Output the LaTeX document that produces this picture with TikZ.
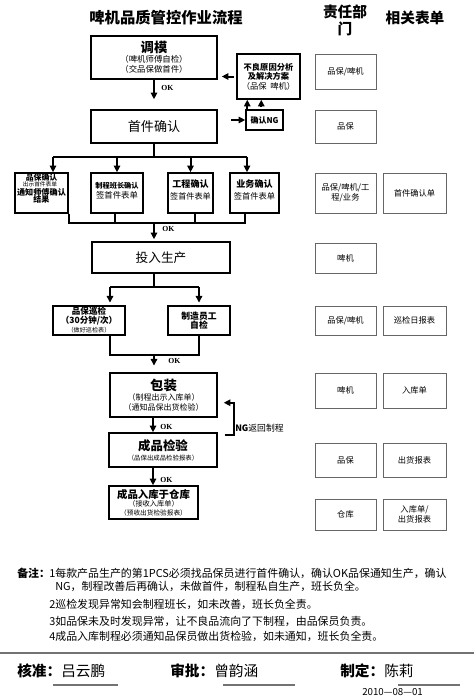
\documentclass[tikz,border=0pt]{standalone}
\usepackage{fontspec}
\setmainfont{Noto Sans CJK SC}
\newfontfamily\okfont{Liberation Serif}
\usetikzlibrary{arrows.meta,calc}
\newcommand\mybox[7][box]{%
 \pgfmathsetmacro\myboxcx{(#3+#5)/2}%
 \pgfmathsetmacro\myboxcy{(#4+#6)/2}%
 \pgfmathsetmacro\myboxw{(#5-#3)*0.75}%
 \pgfmathsetmacro\myboxh{(#6-#4)*0.75}%
 \node[#1,minimum width=\myboxw pt,minimum height=\myboxh pt] (#2) at (\myboxcx,\myboxcy) {#7};}
\newcommand\fz[2]{\fontsize{#1}{#2}\selectfont}
\tikzset{
 box/.style={draw=black,line width=1.1pt,align=center,inner sep=0pt,font=\fz{6.3}{7.4}},
 rbox/.style={draw=black!60,line width=0.75pt,align=center,inner sep=0pt,font=\fz{6.2}{7.6}},
 txt/.style={align=center,inner sep=0pt,font=\fz{6.3}{7.4}},
 ln/.style={line width=1.5pt},
 arr/.style={line width=1.5pt,-{Triangle[length=5pt,width=4.8pt]}},
 ok/.style={anchor=west,inner sep=0pt,font=\okfont\bfseries\fz{5.8}{6}},
 note/.style={anchor=west,inner sep=0pt,font=\fz{8.2}{9}},
 foot/.style={anchor=west,inner sep=0pt,font=\fz{11}{12}},
 uline/.style={draw=black!55,line width=0.8pt},
}
\begin{document}
\begin{tikzpicture}[x=0.75pt,y=-0.75pt]
\useasboundingbox (0,0) rectangle (474,700);
\fill[white] (0,0) rectangle (474,700);

% headers
\node[font=\bfseries\fz{11.5}{13}] (title) at (166,18) {啤机品质管控作业流程};
\node[font=\bfseries\fz{11}{12.75},align=center,inner sep=0pt] (h1) at (345,20) {责任部\\门};
\node[font=\bfseries\fz{11}{13}] (h2) at (415,18) {相关表单};

% main flow boxes
\mybox{tm}{91}{36}{217}{79}{{\fz{10}{11}\bfseries 调模}\\（啤机师傅自检）\\（交品保做首件）}
\mybox{sj}{91}{110}{217}{143}{{\fz{9.8}{11}首件确认}}
\mybox[box,font=\fz{6.2}{7.2}]{bl}{237}{54}{300}{99}{{\bfseries 不良原因分析}\\{\bfseries 及解决方案}\\（品保\ \ 啤机）}
\mybox[box,font=\bfseries\fz{6}{7}]{ng}{246}{110}{283}{130}{确认NG}

\mybox{q1}{15}{173}{68}{213}{}
\node[txt,font=\bfseries\fz{5.9}{6}] (q1a) at (41.5,177.5) {品保确认};
\node[txt,font=\fz{4.3}{5}] (q1b) at (40,184.5) {出示首件表单};
\node[txt,font=\bfseries\fz{6.1}{6}] (q1c) at (41.5,192) {通知师傅确认};
\node[txt,font=\bfseries\fz{6}{6}] (q1d) at (41.5,199.5) {结果};
\mybox{q2}{91}{173}{143}{213}{}
\node[txt,font=\bfseries\fz{5.4}{6}] (q2a) at (117,186) {制程班长确认};
\node[txt,font=\fz{6.3}{7}] (q2b) at (117,195) {签首件表单};
\mybox{q3}{168}{173}{213}{213}{}
\node[txt,font=\fz{6.1}{8.5}] (q3t) at ($(q3)+(0,-3)$) {{\bfseries\fz{6.8}{8}工程确认}\\签首件表单};
\mybox{q4}{230}{173}{279}{213}{}
\node[txt,font=\fz{6.2}{8.5}] (q4t) at ($(q4)+(0,-3)$) {{\bfseries\fz{6.8}{8}业务确认}\\签首件表单};

\mybox{tp}{92}{242}{230}{273}{{\fz{9.5}{11}投入生产}}
\mybox[box,font=\bfseries\fz{6.4}{6.8}]{xj}{53}{306}{125}{335}{品保巡检\\（30分钟/次）\\{\mdseries\fz{4.6}{5}（做好巡检表）}}
\mybox[box,font=\bfseries\fz{6.6}{7}]{zz}{168}{306}{230}{335}{制造员工\\自检}

\mybox[box,font=\fz{6}{7.6}]{bz}{110}{373}{217}{417}{{\fz{10}{11}\bfseries 包装}\\（制程出示入库单）\\（通知品保出货检验）}
\mybox[box,font=\fz{4.8}{7.5}]{cp}{109}{433}{217}{467}{{\fz{9.3}{10}\bfseries 成品检验}\\（品保出成品检验报表）}
\mybox[box,font=\fz{5}{6.3}]{rk}{109}{486}{198}{519}{{\fz{7.8}{8.5}\bfseries 成品入库于仓库}\\{\fz{5.4}{6}（接收入库单）}\\（预收出货检验报表）}

% right columns
\mybox[rbox]{r1}{315}{54}{376}{89}{品保/啤机}
\mybox[rbox]{r2}{315}{110}{376}{143}{品保}
\mybox[rbox]{r3}{315}{173}{376}{213}{品保/啤机/工\\程/业务}
\mybox[rbox]{f3}{383}{173}{446}{213}{首件确认单}
\mybox[rbox]{r4}{315}{243}{376}{273}{啤机}
\mybox[rbox]{r5}{315}{306}{376}{335}{品保/啤机}
\mybox[rbox]{f5}{383}{306}{446}{335}{巡检日报表}
\mybox[rbox]{r6}{315}{373}{376}{408}{啤机}
\mybox[rbox]{f6}{383}{373}{446}{408}{入库单}
\mybox[rbox]{r7}{315}{443}{376}{477}{品保}
\mybox[rbox]{f7}{383}{443}{446}{477}{出货报表}
\mybox[rbox]{r8}{315}{499}{376}{530}{仓库}
\mybox[rbox]{f8}{383}{499}{446}{530}{入库单/\\出货报表}

% connectors: top
\draw[arr,shorten >=7.5pt] (tm.south) -- (sj.north);
\node[ok] (ok1) at (161,88) {OK};
\draw[arr,shorten <=1.5pt,shorten >=3pt] (bl.west) -- (bl.west -| tm.east);
\draw[arr,shorten <=10pt] (sj.east |- ng.west) -- (ng.west);
\coordinate (ngu1) at ($(ng.north west)+(2,0)$);
\coordinate (ngu2) at ($(ng.north west)+(16,-2)$);
\draw[arr] (ngu1) -- (ngu1 |- bl.south);
\draw[arr] (ngu2) -- (ngu2 |- bl.south);

% branch to four confirmations
\coordinate (j1) at (154,157);
\coordinate (busL) at (53,157);
\coordinate (busR) at (247,157);
\draw[ln] (sj.south) -- (j1);
\draw[ln] (busL) -- (busR);
\draw[arr] (busL) -- (busL |- q1.north);
\draw[arr] (q2.north |- busL) -- (q2.north);
\draw[arr] (q3.north |- busL) -- (q3.north);
\draw[arr] (busR) -- (busR |- q4.north);

\coordinate (bbL) at (69,223);
\coordinate (bbR) at (245,223);
\coordinate (b2) at (115,223);
\coordinate (b3) at (195,223);
\coordinate (j2) at (154,223);
\draw[ln] (bbL |- q1.south) -- (bbL) -- (bbR) -- (bbR |- q4.south);
\draw[ln] (b2 |- q2.south) -- (b2);
\draw[ln] (b3 |- q3.south) -- (b3);
\draw[arr,shorten >=1.5pt] (j2) -- (j2 |- tp.north);
\node[ok] (ok2) at (162,229) {OK};

% production split
\coordinate (j3) at (154,287);
\coordinate (pL) at (110,287);
\coordinate (pR) at (199,287);
\draw[ln] (j3 |- tp.south) -- (j3);
\draw[ln] (pL) -- (pR);
\draw[arr,shorten >=2pt] (pL) -- (pL |- xj.north);
\draw[arr,shorten >=2pt] (pR) -- (pR |- zz.north);
\coordinate (j4) at (154,355);
\draw[ln] (pL |- xj.south) -- (pL |- j4) -- (pR |- j4) -- (pR |- zz.south);
\draw[arr,shorten >=5pt] (j4) -- (j4 |- bz.north);
\node[ok] (ok3) at (168,361) {OK};

% packaging to storage
\coordinate (c5) at (153,400);
\draw[arr] (c5 |- bz.south) -- (c5 |- cp.north);
\node[ok] (ok4) at (160,427) {OK};
\draw[arr] (c5 |- cp.south) -- (c5 |- rk.north);
\node[ok] (ok5) at (160,480) {OK};
\coordinate (ngs) at ($(cp.north east)+(7,3)$);
\coordinate (nge) at ($(bz.south east)+(6,-15)$);
\draw[arr] (ngs) -- ++(9,0) |- (nge);
\node[anchor=west,inner sep=0pt,font=\fz{6.6}{7}] (nglab) at (235,428) {{\bfseries NG}返回制程};

% notes
\node[note,font=\bfseries\fz{8.2}{9}] (bz0) at (17,573) {备注：};
\node[note] (n1) at (49,573) {1每款产品生产的第1PCS必须找品保员进行首件确认，确认OK品保通知生产，确认};
\node[note] (n1b) at (55,586) {NG，制程改善后再确认，未做首件，制程私自生产，班长负全。};
\node[note] (n2) at (49,604) {2巡检发现异常知会制程班长，如未改善，班长负全责。};
\node[note] (n3) at (49,621) {3如品保未及时发现异常，让不良品流向了下制程，由品保员负责。};
\node[note] (n4) at (49,636) {4成品入库制程必须通知品保员做出货检验，如未通知，班长负全责。};

% footer
\draw[draw=black!55,line width=1.2pt] (0,653) -- (474,653);
\node[foot] (k1) at (17,671) {{\bfseries 核准：}吕云鹏};
\node[foot] (k2) at (170,671) {{\bfseries 审批：}曾韵涵};
\node[foot] (k3) at (340,671) {{\bfseries 制定：}陈莉};
\draw[uline] (53,685) -- (118,685);
\draw[uline] (223,685) -- (295,685);
\draw[uline] (398,685) -- (460,685);
\node[anchor=west,inner sep=0pt,font=\fz{7.3}{8}] (date) at (362,692) {2010—08—01};
\end{tikzpicture}
\end{document}
